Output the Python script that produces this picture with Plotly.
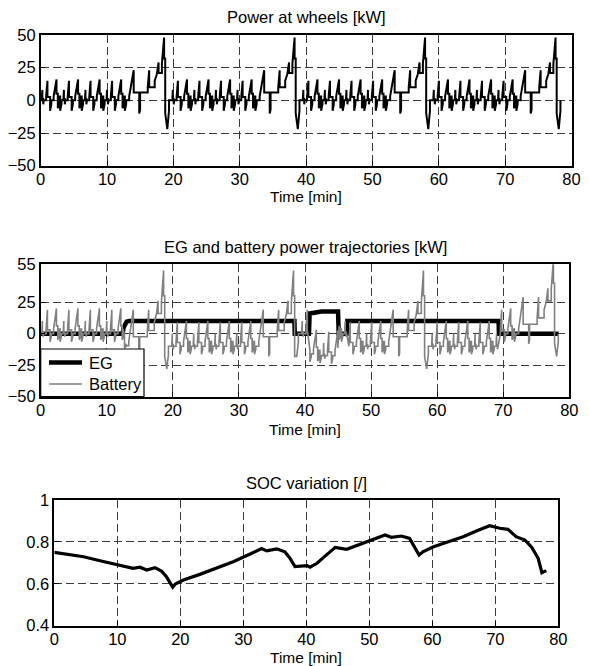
import numpy as np
import plotly.graph_objects as go

# one urban (ECE) segment: time [s] and power [kW]
ece_t = [0, 11, 11, 15, 15, 23, 23, 28, 28, 49, 49, 61, 61, 85, 85, 96, 96, 117,
         117, 143, 143, 155, 155, 163, 163, 176, 176, 188, 188, 195]
ece_wheel = [0, 0, 2, 8, 1, 1, -3, -2, 0, 0, 3, 15, 2.5, 2.5, -8, -3, 0, 0,
             3, 16, 5, 5, -6, -4, 3, 3, -8, -3, 0, 0]
# battery trace where the EG is off
ece_batt = [0, 0, 2.5, 10, 1.3, 1.3, -2.4, -1.6, 0, 0, 3.7, 19, 3, 3, -6.4, -2.4, 0, 0,
            3.7, 20, 6.2, 6.2, -4.8, -3.2, 3.7, 3.7, -6.4, -2.4, 0, 0]

# extra-urban (EUDC) segment
eudc_t = [0, 20, 20, 61, 61, 111, 111, 119, 119, 188, 188, 201, 201, 251, 251, 270,
          286, 286, 316, 316, 336, 336, 346, 346, 365, 380, 380, 400]
eudc_wheel = [0, 0, 3, 23, 6, 6, -10, -7, 6, 6, 10, 23, 10, 10, 15, 20,
              29, 21, 21, 28, 48, 32, 32, -10, -22, -8, 0, 0]
eudc_batt = [0, 0, 3.7, 29, 7.5, 7.5, -8, -5.6, 7.5, 7.5, 12.5, 29, 12.5, 12.5, 19, 25,
             36, 26, 26, 35, 60, 40, 40, -8, -18, -6.4, 0, 0]

n_cycles = 4
ece_per_cycle = 4
ece_len = 195
cycle_len = 1180
t_end = 78.35

# EG power steps [min, kW]
eg_t = [0, 12.4, 12.55, 12.75, 13.0, 13.4, 38.4, 38.45, 40.6, 40.7, 41.5, 42.5,
        45.0, 45.1, 46.3, 46.4, 69.3, 69.35, 78.4]
eg_p = [0, 0, 5, 8, 9.5, 10, 10, 0, 0, 16, 17, 17.5,
        17.5, 0, 0, 10, 10, 0, 0]

# state of charge
soc_t = [0, 2.0, 4.65, 7.25, 9.9, 12.5, 13.6, 14.66, 15.98, 17.0, 17.8, 18.5, 18.8,
         19.2, 20.5, 23.1, 25.8, 28.4, 31.0, 32.9, 33.7, 35.3, 36.6, 37.4, 38.2,
         39.0, 40.1, 40.6, 41.7, 42.7, 44.6, 46.4, 48.0, 50.1, 51.2, 52.5, 53.5,
         55.1, 56.4, 57.2, 57.9, 58.5, 60.2, 62.3, 64.9, 67.0, 69.1, 70.7, 72.0,
         73.3, 74.7, 75.8, 76.8, 77.4, 78.1]
soc = [0.750, 0.741, 0.729, 0.710, 0.693, 0.674, 0.679, 0.666, 0.677, 0.661, 0.634,
       0.603, 0.584, 0.599, 0.618, 0.645, 0.677, 0.705, 0.741, 0.768, 0.757, 0.767,
       0.753, 0.722, 0.682, 0.685, 0.687, 0.679, 0.698, 0.725, 0.774, 0.765, 0.782,
       0.806, 0.817, 0.833, 0.822, 0.828, 0.817, 0.777, 0.737, 0.753, 0.777, 0.798,
       0.825, 0.852, 0.877, 0.865, 0.860, 0.825, 0.809, 0.774, 0.722, 0.653, 0.663]

# lay the read segments end to end as in the figure (4 x NEDC)
time_s, wheel, demand = [], [], []
for k in range(n_cycles):
    for j in range(ece_per_cycle):
        off = k * cycle_len + j * ece_len
        time_s += [off + t for t in ece_t]
        wheel += ece_wheel
        demand += ece_batt
    off = k * cycle_len + ece_per_cycle * ece_len
    time_s += [off + t for t in eudc_t]
    wheel += eudc_wheel
    demand += eudc_batt

t_min = np.array(time_s) / 60.0
keep = t_min <= t_end
t_min = t_min[keep]
wheel = np.array(wheel)[keep]
demand = np.array(demand)[keep]
eg_level = np.array(eg_p)[np.searchsorted(eg_t, t_min, side="right") - 1]
battery = demand - eg_level

W, H = 589, 666
FONT = "Liberation Sans, Arial, sans-serif"
EG_STYLE = dict(color="black", width=4.5)
BAT_STYLE = dict(color="#808080", width=1.6)


def px(x0, x1):
    return [x0 / W, x1 / W]


def py(top, bottom):
    return [1 - bottom / H, 1 - top / H]


def axstyle(domain, **kw):
    d = dict(domain=domain, showline=True, mirror=True, linecolor="black",
             linewidth=1.5, ticks="inside", ticklen=5, tickcolor="black",
             showgrid=True, gridcolor="#3a3a3a", gridwidth=1, griddash="8px,4px",
             zeroline=False, automargin=False,
             tickfont=dict(family=FONT, size=16.5, color="black"))
    d.update(kw)
    return d


fig = go.Figure()
fig.add_trace(go.Scatter(x=t_min, y=wheel, mode="lines", showlegend=False,
                         line=dict(color="black", width=2), xaxis="x", yaxis="y"))
fig.add_trace(go.Scatter(x=eg_t, y=eg_p, mode="lines", name="EG", showlegend=False,
                         line=EG_STYLE, xaxis="x2", yaxis="y2"))
fig.add_trace(go.Scatter(x=t_min, y=battery, mode="lines", name="Battery", showlegend=False,
                         line=BAT_STYLE, xaxis="x2", yaxis="y2"))
fig.add_trace(go.Scatter(x=soc_t, y=soc, mode="lines", showlegend=False,
                         line=dict(color="black", width=3.2), xaxis="x3", yaxis="y3"))

xticks = dict(range=[0, 80], tickvals=list(range(0, 81, 10)), ticklabelstandoff=-2)
fig.update_layout(
    template="none",
    width=W, height=H, margin=dict(l=0, r=0, t=0, b=0, autoexpand=False),
    paper_bgcolor="white", plot_bgcolor="white",
    font=dict(family=FONT, size=16.5, color="black"),
    xaxis=axstyle(px(40.7, 571.5), anchor="y", **xticks),
    yaxis=axstyle(py(35, 165.7), anchor="x", range=[-50, 50],
                  tickvals=[-50, -25, 0, 25, 50]),
    xaxis2=axstyle(px(40.7, 569.3), anchor="y2", **xticks),
    yaxis2=axstyle(py(264.3, 396.7), anchor="x2", range=[-50, 55],
                   tickvals=[-50, -25, 0, 25, 55]),
    xaxis3=axstyle(px(54.3, 558.3), anchor="y3", **xticks),
    yaxis3=axstyle(py(500, 625.7), anchor="x3", range=[0.4, 1],
                   tickvals=[0.4, 0.6, 0.8, 1], ticktext=["0.4", "0.6", "0.8", "1"]),
)

labels = [
    ("Power at wheels [kW]", 306, 17, 16.5),
    ("Time [min]", 306, 197, 15.5),
    ("EG and battery power trajectories [kW]", 305, 247, 16.5),
    ("Time [min]", 305, 429, 15.5),
    ("SOC variation [/]", 306, 483, 16.5),
    ("Time [min]", 306, 657, 15.5),
]
for text, cx, cy, size in labels:
    fig.add_annotation(text=text, x=cx / W, y=1 - cy / H, xref="paper", yref="paper",
                       showarrow=False, xanchor="center", yanchor="middle",
                       font=dict(family=FONT, size=size, color="black"))

# legend box in the lower-left corner of the middle panel (MATLAB style)
fig.add_shape(type="rect", xref="paper", yref="paper",
              x0=40.7 / W, x1=144 / W, y0=1 - 396.7 / H, y1=1 - 349 / H,
              fillcolor="white", line=dict(color="black", width=1.2), layer="above")
for name, style, ly in [("EG", EG_STYLE, 362.5), ("Battery", BAT_STYLE, 384)]:
    fig.add_shape(type="line", xref="paper", yref="paper",
                  x0=49 / W, x1=82 / W, y0=1 - ly / H, y1=1 - ly / H,
                  line=style, layer="above")
    fig.add_annotation(text=name, x=87 / W, y=1 - ly / H, xref="paper", yref="paper",
                       showarrow=False, xanchor="left", yanchor="middle",
                       font=dict(family=FONT, size=16.5, color="black"))

# the page's default body margin would push the figure off the window
fig.write_html("out.html", config={"displayModeBar": False},
               post_script="document.body.style.margin='0';document.body.style.overflow='hidden';")
